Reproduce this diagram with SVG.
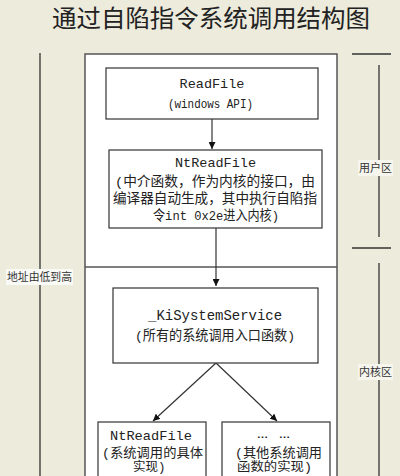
<svg xmlns="http://www.w3.org/2000/svg" width="400" height="476" viewBox="0 0 400 476">
<defs>
<style>
.bg{fill:#ECEBDC}
.box{fill:#fff;stroke:#333;stroke-width:1.2}
.frame{fill:#fff;stroke:#555;stroke-width:1.5}
.ln{stroke:#333;stroke-width:1.2;fill:none}
.side{stroke:#333;stroke-width:1.3;fill:none}
.t{font-family:"Liberation Mono","Noto Sans CJK SC",monospace;fill:#222}
.c{font-family:"Noto Sans CJK SC","Liberation Sans",sans-serif;fill:#222}
.lab{font-family:"Noto Sans CJK SC",sans-serif;font-size:11px;fill:#333}
</style>
<marker id="ah" viewBox="0 0 10 10" refX="10" refY="5" markerWidth="7" markerHeight="7" orient="auto" markerUnits="userSpaceOnUse">
<path d="M0,0 L10,5 L0,10 z" fill="#111"/>
</marker>
</defs>
<rect class="bg" x="0" y="0" width="400" height="476"/>
<text id="title" class="c" x="52" y="27" font-size="24" textLength="318" lengthAdjust="spacingAndGlyphs">通过自陷指令系统调用结构图</text>

<g id="frame">
<rect class="frame" x="85" y="54" width="252" height="440"/>
<line class="frame" x1="85" y1="267" x2="337" y2="267"/>
</g>

<g id="address-axis">
<line class="side" x1="40" y1="53" x2="40" y2="476"/>
<rect x="6" y="269" width="67" height="16" fill="#fafaf6"/>
<text class="lab" x="7" y="281" textLength="65" lengthAdjust="spacingAndGlyphs">地址由低到高</text>
</g>

<g id="zone-user">
<line class="side" x1="352" y1="54" x2="391" y2="54" stroke="#666"/>
<line class="side" x1="379" y1="65" x2="379" y2="237"/>
<rect x="358" y="160" width="35" height="16" fill="#f6f6ee"/>
<text class="lab" x="359" y="172" textLength="33" lengthAdjust="spacingAndGlyphs">用户区</text>
</g>
<g id="zone-kernel">
<line class="side" x1="352" y1="248" x2="391" y2="248"/>
<line class="side" x1="379" y1="263" x2="379" y2="476"/>
<rect x="358" y="364" width="35" height="16" fill="#f6f6ee"/>
<text class="lab" x="359" y="376" textLength="33" lengthAdjust="spacingAndGlyphs">内核区</text>
</g>

<g id="connectors">
<line class="ln" x1="212" y1="119" x2="212" y2="149" marker-end="url(#ah)"/>
<line class="ln" x1="216" y1="228" x2="216" y2="286" marker-end="url(#ah)"/>
<line class="ln" x1="216" y1="363" x2="153" y2="421" marker-end="url(#ah)"/>
<line class="ln" x1="216" y1="363" x2="277" y2="421" marker-end="url(#ah)"/>
</g>

<g id="readfile">
<rect class="box" x="106" y="68" width="212" height="51"/>
<text class="t" x="212" y="88" font-size="13.5" text-anchor="middle">ReadFile</text>
<text class="t" x="168" y="108" font-size="12.5" textLength="85" lengthAdjust="spacingAndGlyphs">(windows API)</text>
</g>

<g id="ntreadfile-user">
<rect class="box" x="109" y="150" width="213" height="78"/>
<text class="t" x="215.5" y="167" font-size="13.5" text-anchor="middle">NtReadFile</text>
<text class="t" x="115" y="186" font-size="13.5" textLength="200" lengthAdjust="spacingAndGlyphs">(中介函数，作为内核的接口，由</text>
<text class="t" x="113" y="203" font-size="13.5" textLength="204" lengthAdjust="spacingAndGlyphs">编译器自动生成，其中执行自陷指</text>
<text class="t" x="153" y="220" font-size="13.5" textLength="126" lengthAdjust="spacingAndGlyphs">令int 0x2e进入内核)</text>
</g>

<g id="kisystemservice">
<rect class="box" x="113" y="288" width="205" height="75"/>
<text class="t" x="148" y="320" font-size="14" textLength="134" lengthAdjust="spacingAndGlyphs">_KiSystemService</text>
<text class="t" x="135" y="340" font-size="13.5" textLength="160" lengthAdjust="spacingAndGlyphs">(所有的系统调用入口函数)</text>
</g>

<g id="ntreadfile-kernel">
<rect class="box" x="98" y="422" width="108" height="70"/>
<text class="t" x="110" y="440" font-size="13.6" textLength="82" lengthAdjust="spacingAndGlyphs">NtReadFile</text>
<text class="t" x="102" y="457" font-size="13" textLength="101" lengthAdjust="spacingAndGlyphs">(系统调用的具体</text>
<text class="t" x="133" y="471" font-size="12.5">实现)</text>
</g>

<g id="others">
<rect class="box" x="222" y="422" width="108" height="70"/>
<text class="t" x="257" y="438" font-size="13.5" textLength="33" lengthAdjust="spacingAndGlyphs">… …</text>
<text class="t" x="235" y="457" font-size="13" textLength="87" lengthAdjust="spacingAndGlyphs">(其他系统调用</text>
<text class="t" x="237" y="471" font-size="12.5" textLength="75" lengthAdjust="spacingAndGlyphs">函数的实现)</text>
</g>
</svg>
